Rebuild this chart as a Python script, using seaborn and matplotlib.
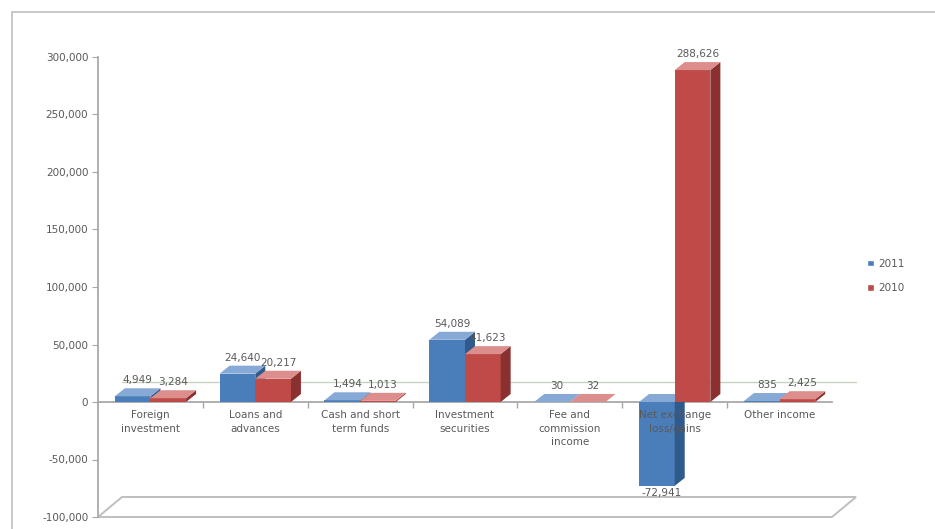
import matplotlib
matplotlib.use("Agg")
import matplotlib.pyplot as plt
from matplotlib.patches import Polygon, Rectangle
from matplotlib.ticker import FuncFormatter, FixedLocator
import seaborn as sns
import pandas as pd
import numpy as np

categories = [
    "Foreign\ninvestment",
    "Loans and\nadvances",
    "Cash and short\nterm funds",
    "Investment\nsecurities",
    "Fee and\ncommission\nincome",
    "Net exchange\nloss/gains",
    "Other income",
]
values_2011 = [4949, 24640, 1494, 54089, 30, -72941, 835]
values_2010 = [3284, 20217, 1013, 41623, 32, 288626, 2425]
years = ["2011", "2010"]
y_ticks = [-100000, -50000, 0, 50000, 100000, 150000, 200000, 250000, 300000]

df = pd.DataFrame({
    "category": categories * 2,
    "year": [years[0]] * len(categories) + [years[1]] * len(categories),
    "value": values_2011 + values_2010,
})

front = {"2011": "#4A7EBB", "2010": "#BE4B48"}
side = {"2011": "#2F5A8C", "2010": "#8A302E"}
top = {"2011": "#86A9D6", "2010": "#DC8E8C"}
text_col = "#595959"

sns.set_theme(style="white")
plt.rcParams["font.family"] = ["DejaVu Sans"]

W, H, DPI = 935, 529, 100
fig = plt.figure(figsize=(W / DPI, H / DPI), dpi=DPI)
ax = fig.add_axes([98 / W, 1 - 517 / H, (832 - 98) / W, (517 - 57) / H])

sns.barplot(data=df, x="category", y="value", hue="year", hue_order=years,
            palette=front, width=0.68, saturation=1, ax=ax, legend=False,
            edgecolor="none")

ax.set_xlim(-0.5, len(categories) - 0.5)
ax.set_ylim(y_ticks[0], y_ticks[-1])

# depth of the pseudo-3D faces, in data units
px_x = (832 - 98) / len(categories)
px_y = (517 - 57) / (y_ticks[-1] - y_ticks[0])
dx = 10 / px_x
dy = 8 / px_y

# floor under the plot
fdx, fdy = 24 / px_x, 20 / px_y
y0 = y_ticks[0]
ax.add_patch(Polygon([(-0.5, y0), (6.5, y0), (6.5 + fdx, y0 + fdy), (-0.5 + fdx, y0 + fdy)],
                     closed=True, facecolor="white", edgecolor="#BFBFBF", lw=1.4,
                     clip_on=False, zorder=0.5))
# back zero line
ax.plot([-0.5 + fdx, 6.5 + fdx], [fdy, fdy], color="#C8D2C0", lw=1.0, zorder=0.6, clip_on=False)

order = [yr for yr in years for _ in categories]
bars = list(ax.patches[:len(order)])

for patch, yr in zip(bars, order):
    z = 2.0 if yr == years[0] else 3.0
    patch.set_zorder(z)
    x, y = patch.get_x(), patch.get_y()
    w, h = patch.get_width(), patch.get_height()
    lo, hi = min(y, y + h), max(y, y + h)
    # right side face
    ax.add_patch(Polygon([(x + w, lo), (x + w + dx, lo + dy), (x + w + dx, hi + dy), (x + w, hi)],
                         closed=True, facecolor=side[yr], edgecolor="none", zorder=z + 0.1))
    # top face
    ax.add_patch(Polygon([(x, hi), (x + dx, hi + dy), (x + w + dx, hi + dy), (x + w, hi)],
                         closed=True, facecolor=top[yr], edgecolor="none", zorder=z + 0.1))

# value labels
for patch, yr in zip(bars, order):
    x, y = patch.get_x(), patch.get_y()
    w, h = patch.get_width(), patch.get_height()
    label = f"{int(round(h)):,}"
    if h >= 0:
        ax.text(x + w / 2 + dx / 2, y + h + dy + 2500, label, ha="center", va="bottom",
                fontsize=7.5, color=text_col, zorder=5)
    else:
        ax.text(x + w / 2 + dx / 2, y + h - 1500, label, ha="center", va="top",
                fontsize=7.5, color=text_col, zorder=5)

# axes styling
for s in ["top", "right"]:
    ax.spines[s].set_visible(False)
ax.spines["left"].set_color("#A6A6A6")
ax.spines["bottom"].set_color("#A6A6A6")
ax.spines["bottom"].set_position(("data", 0))
ax.spines["bottom"].set_zorder(0.7)

ax.set_yticks(y_ticks)
ax.yaxis.set_major_formatter(FuncFormatter(lambda v, p: f"{int(v):,}"))
ax.tick_params(axis="y", colors=text_col, labelsize=7.5, length=4, width=0.8, left=True,
               direction="out", color="#A6A6A6", pad=3)
ax.tick_params(axis="x", colors=text_col, labelsize=7.5, length=0, pad=6)
ax.set_xticks(range(len(categories)))
ax.set_xticklabels(categories, color=text_col, linespacing=1.4)
ax.xaxis.set_minor_locator(FixedLocator(np.arange(0.5, len(categories) - 0.5, 1)))
ax.tick_params(axis="x", which="minor", length=4, color="#A6A6A6", bottom=True, direction="out")
ax.xaxis.set_zorder(6)
ax.set_xlabel("")
ax.set_ylabel("")
ax.grid(False)

# legend
handles = [Rectangle((0, 0), 1, 1, facecolor=front[y]) for y in years]
fig.legend(handles, years, loc="center left", bbox_to_anchor=(858 / W, 1 - 276 / H),
           frameon=False, fontsize=7.5, labelcolor=text_col, handlelength=0.6,
           handleheight=0.6, handletextpad=0.4, labelspacing=1.4)

# outer chart frame
fig.add_artist(Rectangle((12 / W, -0.01), 1.0, 1 - 12 / H + 0.01, transform=fig.transFigure,
                         fill=False, edgecolor="#BFBFBF", lw=1.2))

fig.savefig("out.png", dpi=DPI)
